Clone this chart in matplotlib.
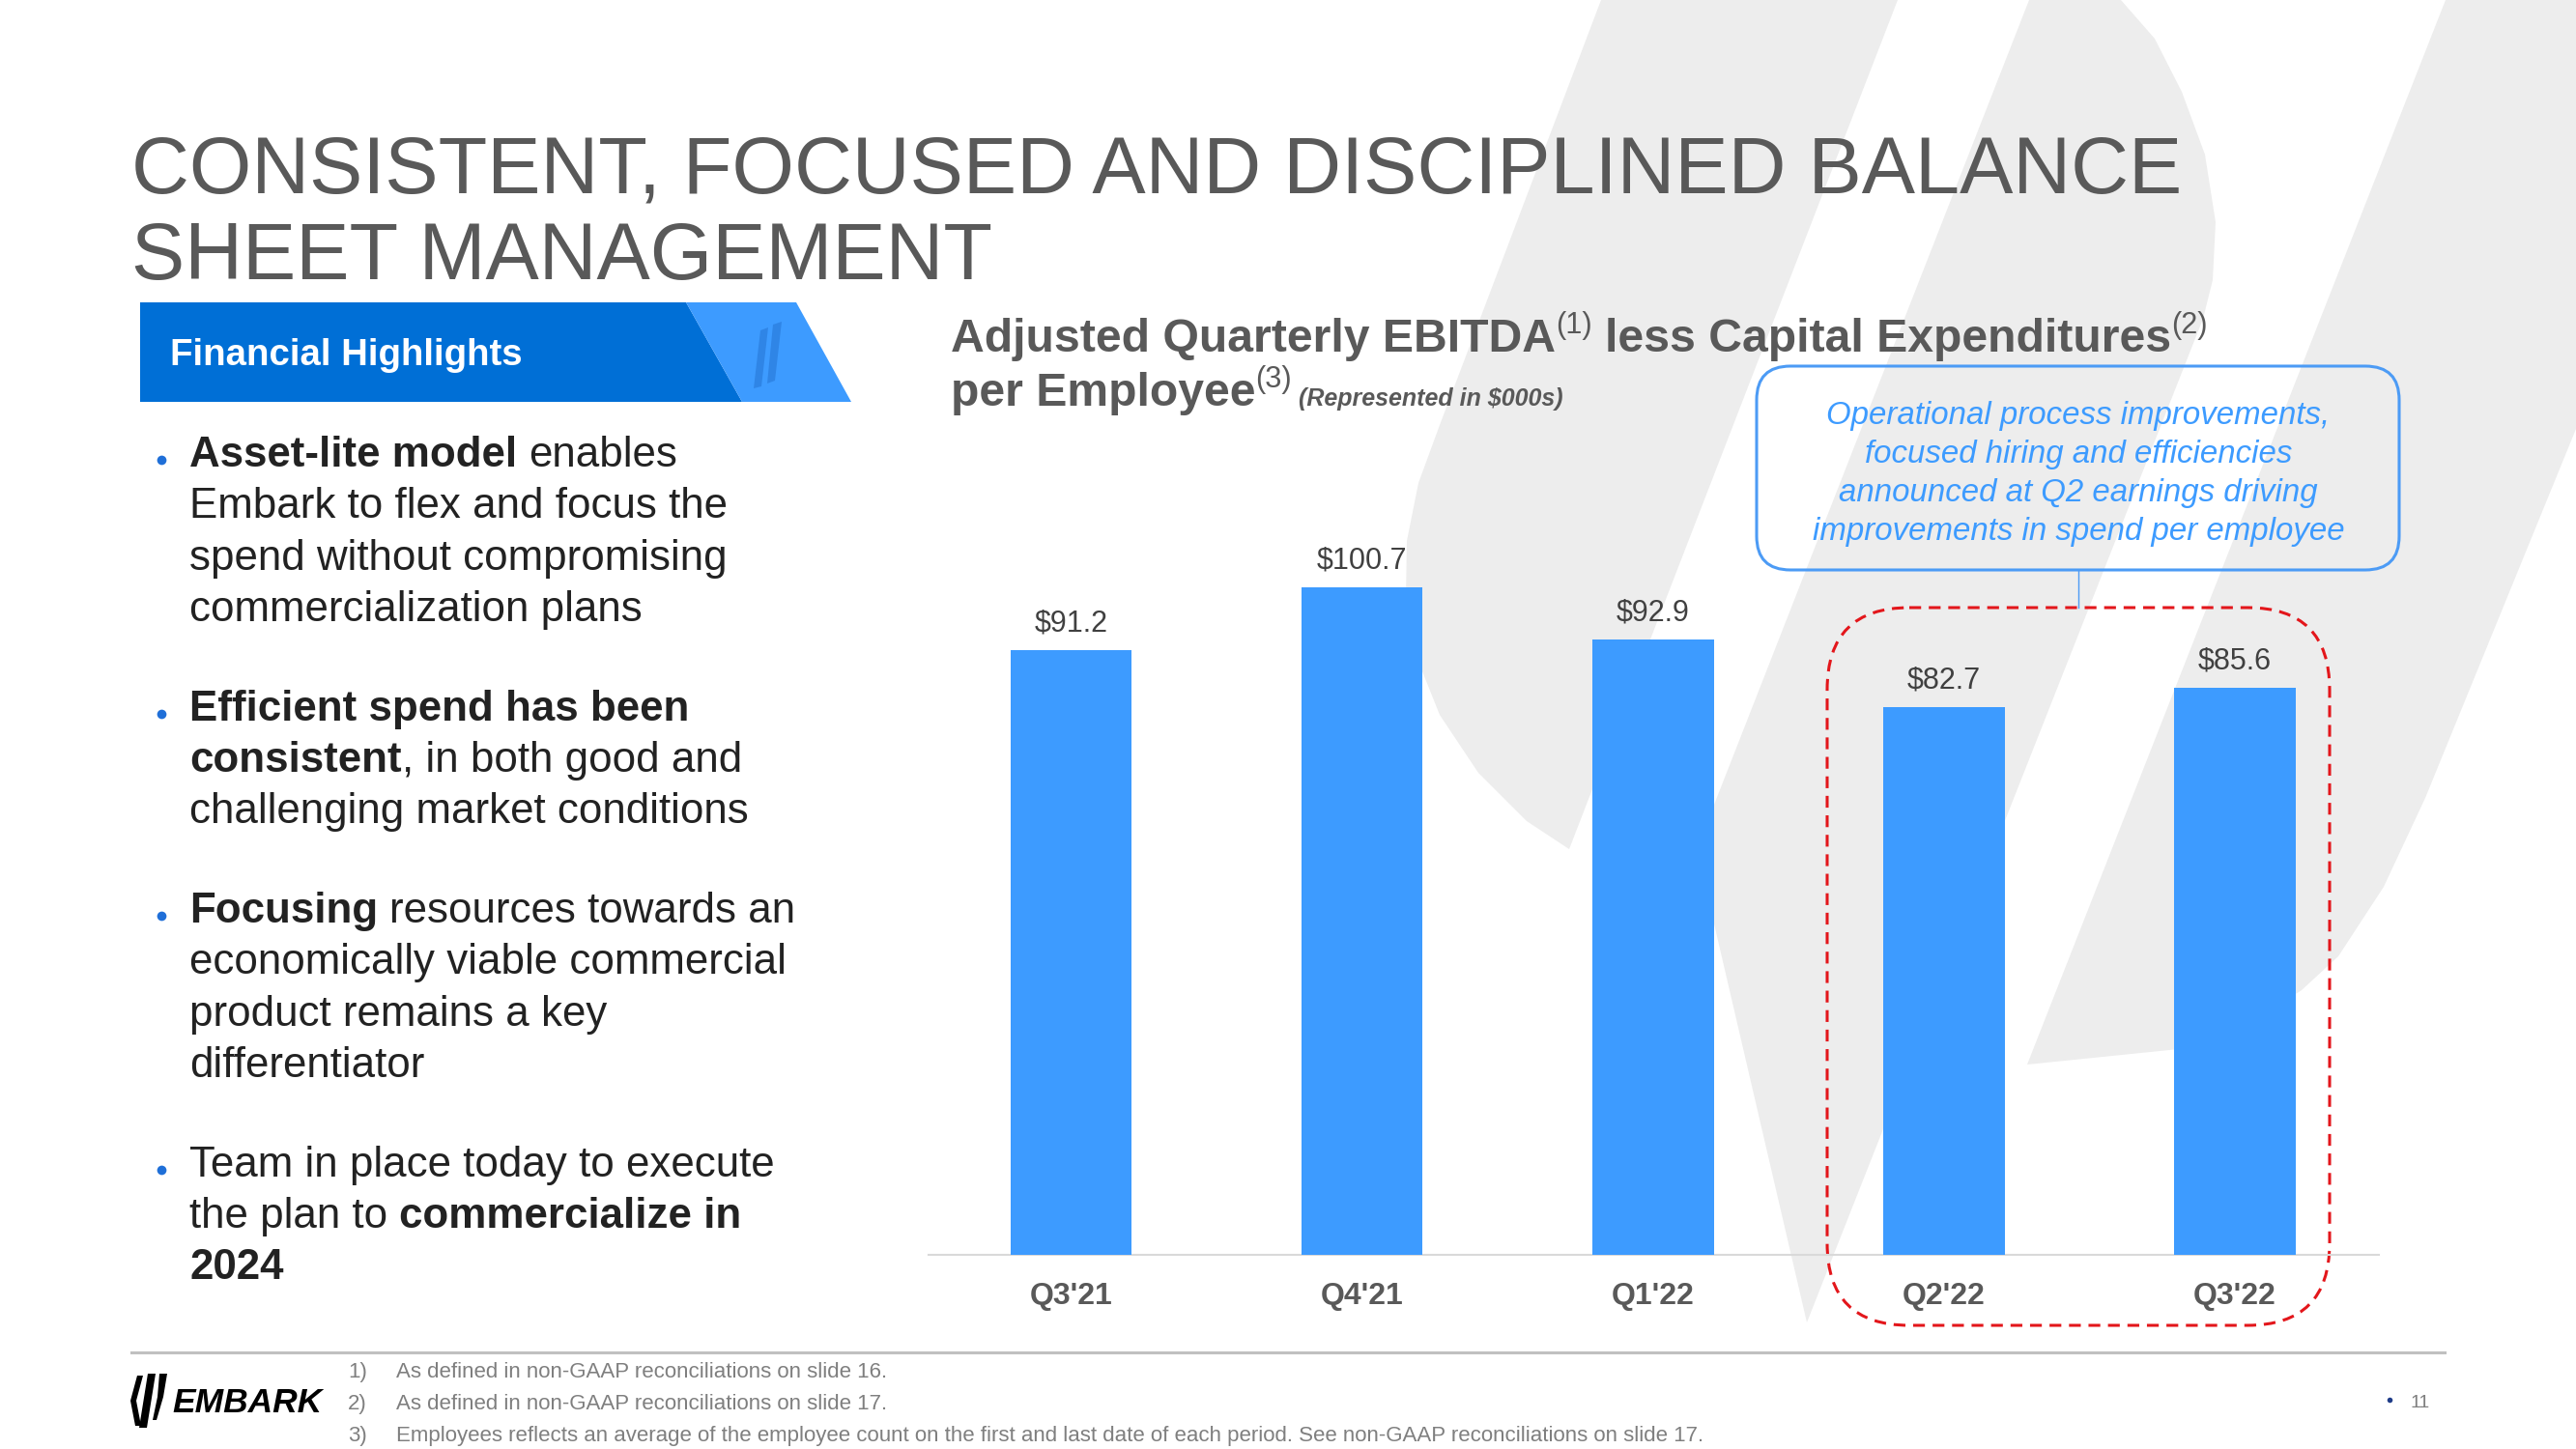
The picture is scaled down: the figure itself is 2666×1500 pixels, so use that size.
import matplotlib
matplotlib.use("Agg")
import matplotlib.pyplot as plt
from matplotlib.patches import Polygon, FancyBboxPatch

plt.rcParams['font.family'] = ['Liberation Sans', 'DejaVu Sans']

# ---- data ----
quarters = ["Q3'21", "Q4'21", "Q1'22", "Q2'22", "Q3'22"]
spend = [91.2, 100.7, 92.9, 82.7, 85.6]   # $000s per employee

title_lines = ["CONSISTENT, FOCUSED AND DISCIPLINED BALANCE", "SHEET MANAGEMENT"]
note_lines = ["Operational process improvements,",
              "focused hiring and efficiencies",
              "announced at Q2 earnings driving",
              "improvements in spend per employee"]
footnotes = ["As defined in non-GAAP reconciliations on slide 16.",
             "As defined in non-GAAP reconciliations on slide 17.",
             "Employees reflects an average of the employee count on the first and last date "
             "of each period. See non-GAAP reconciliations on slide 17."]
# each bullet = list of lines, each line = list of (text, bold)
bullets = [
    [[("Asset-lite model", True), (" enables", False)],
     [("Embark to flex and focus the", False)],
     [("spend without compromising", False)],
     [("commercialization plans", False)]],
    [[("Efficient spend has been", True)],
     [("consistent", True), (", in both good and", False)],
     [("challenging market conditions", False)]],
    [[("Focusing", True), (" resources towards an", False)],
     [("economically viable commercial", False)],
     [("product remains a key", False)],
     [("differentiator", False)]],
    [[("Team in place today to execute", False)],
     [("the plan to", False), (" commercialize in", True)],
     [("2024", True)]],
]

GRAY = '#595959'
BLUE = '#3D9BFF'

fig = plt.figure(figsize=(26.66, 15), dpi=100)
bg = fig.add_axes([0, 0, 1, 1])   # pixel coordinates, y down
bg.set_xlim(0, 2666)
bg.set_ylim(1500, 0)
bg.axis('off')
renderer = fig.canvas.get_renderer()


def text_width(s, size, weight='normal', style='normal'):
    t = bg.text(0, 0, s, fontsize=size, fontweight=weight, fontstyle=style, parse_math=False)
    w = t.get_window_extent(renderer).width
    t.remove()
    return w


def draw_pieces(x, y, pieces, size, color, dry=False):
    # pieces: (text, weight, style, scale, rise)
    cx = x
    for s, weight, style, scale, rise in pieces:
        fs = size * scale
        sp = text_width('x x', fs, weight, style) - text_width('xx', fs, weight, style)
        cx += (len(s) - len(s.lstrip(' '))) * sp
        core = s.strip(' ')
        if core:
            if not dry:
                bg.text(cx, y - rise * size * 100 / 72, core, fontsize=fs, fontweight=weight,
                        fontstyle=style, color=color, va='baseline', ha='left', parse_math=False)
            cx += text_width(core, fs, weight, style)
        cx += (len(s) - len(s.rstrip(' '))) * sp
    return cx - x


def fit(pieces, target):
    return 10 * target / draw_pieces(0, 0, pieces, 10, 'k', dry=True)


# ---- watermark ----
wm = '#EDEDED'
shape_a = [(1657, 0), (1964, 0), (1624, 879), (1580, 850), (1530, 800), (1490, 740),
           (1466, 680), (1455, 620), (1456, 560), (1468, 500), (1490, 440)]
shape_b = [(2100, 0), (2195, 0), (2230, 40), (2258, 95), (2282, 160), (2293, 230),
           (2290, 290), (2280, 330), (1870, 1369), (1756, 879)]
shape_c = [(2531, 0), (2666, 0), (2666, 444), (2510, 826), (2467, 918), (2420, 990),
           (2382, 1025), (2320, 1065), (2255, 1086), (2098, 1102)]
for pts in (shape_a, shape_b, shape_c):
    bg.add_patch(Polygon(pts, closed=True, fc=wm, ec='none', zorder=0))

# ---- title ----
tsize = fit([(title_lines[0], 'normal', 'normal', 1, 0)], 2122)
for s, yb in zip(title_lines, [200, 289]):
    bg.text(136, yb, s, fontsize=tsize, color=GRAY, va='baseline', ha='left')

# ---- header box ----
bg.add_patch(Polygon([(145, 313), (710, 313), (768, 416), (145, 416)], fc='#006FD6', ec='none', zorder=1))
bg.add_patch(Polygon([(710, 313), (824, 313), (881, 416), (768, 416)], fc=BLUE, ec='none', zorder=1))
bg.add_patch(Polygon([(787, 342), (795, 339), (788, 400), (780, 402)], fc='#2F85E6', ec='none', zorder=2))
bg.add_patch(Polygon([(800, 336), (809, 333), (802, 394), (794, 397)], fc='#2F85E6', ec='none', zorder=2))
hsize = fit([("Financial Highlights", 'bold', 'normal', 1, 0)], 365)
bg.text(176, 378, "Financial Highlights", fontsize=hsize, fontweight='bold', color='white',
        va='baseline', ha='left', zorder=3)

# ---- bullets ----
bsize = fit([("commercialization plans", 'normal', 'normal', 1, 0)], 470)
y = 483
for bullet in bullets:
    bg.plot(167, y - 7, 'o', ms=7, color='#1F6FD8', mec='none')
    for line in bullet:
        pcs = [(s, 'bold' if b else 'normal', 'normal', 1, 0) for s, b in line]
        draw_pieces(196, y, pcs, bsize, '#222222')
        y += 53.3
    y += 49.5

# ---- chart title ----
line1 = [("Adjusted Quarterly EBITDA", 'bold', 'normal', 1, 0),
         ("(1)", 'normal', 'normal', 0.64, 0.4),
         (" less Capital Expenditures", 'bold', 'normal', 1, 0),
         ("(2)", 'normal', 'normal', 0.64, 0.4)]
csize = fit(line1, 1303)
draw_pieces(984, 364, line1, csize, GRAY)
line2 = [("per Employee", 'bold', 'normal', 1, 0),
         ("(3)", 'normal', 'normal', 0.64, 0.4),
         (" (Represented in $000s)", 'bold', 'italic', 0.52, 0)]
draw_pieces(984, 420, line2, csize, GRAY)

# ---- note box ----
nsize = fit([(note_lines[3], 'normal', 'italic', 1, 0)], 551)
bg.add_patch(FancyBboxPatch((1818, 379), 665, 211, boxstyle='round,pad=0,rounding_size=35',
                            fc='none', ec='#4C9BF5', lw=2.2, zorder=2))
for i, s in enumerate(note_lines):
    bg.text(2151, 439 + 40 * i, s, fontsize=nsize, fontstyle='italic', color=BLUE,
            ha='center', va='baseline', zorder=3)
bg.plot([2151, 2151], [590, 629], color='#4C9BF5', lw=1, zorder=2)

# red dashed highlight
bg.add_patch(FancyBboxPatch((1891, 629), 520, 743, boxstyle='round,pad=0,rounding_size=85',
                            fc='none', ec='#E3161B', lw=2.2, ls=(0, (4, 2.6)), zorder=2))

# ---- bar chart ----
ax = fig.add_axes([960.7 / 2666, 1 - 1299 / 1500, (2462 - 960.7) / 2666, (1299 - 544.3) / 1500])
ax.patch.set_alpha(0)
xpos = range(len(quarters))
bars = ax.bar(xpos, spend, width=0.418, color=BLUE, zorder=3)
ax.bar_label(bars, labels=[f"${v}" for v in spend], padding=9, fontsize=22, color='#404040')
ax.set_xlim(-0.491, 4.496)
ax.set_ylim(0, 110)
ax.set_xticks(list(xpos))
ax.set_xticklabels(quarters, fontsize=23, fontweight='bold', color=GRAY)
ax.tick_params(axis='x', length=0, pad=20)
ax.set_yticks([])
for side in ['top', 'right', 'left']:
    ax.spines[side].set_visible(False)
ax.spines['bottom'].set_color('#D9D9D9')
ax.spines['bottom'].set_linewidth(1.5)

# ---- footer ----
bg.plot([136, 2530], [1400, 1400], color='#C0C0C0', lw=2.2)
fsize = fit([(footnotes[2], 'normal', 'normal', 1, 0)], 1360)
for i, s in enumerate(footnotes):
    yb = 1426 + 33 * i
    bg.text(360, yb, f"{i + 1})", fontsize=fsize, color='#7F7F7F', va='baseline', ha='left')
    bg.text(410, yb, s, fontsize=fsize, color='#7F7F7F', va='baseline', ha='left', parse_math=False)

# logo
bg.add_patch(Polygon([(142, 1424), (148, 1424), (141, 1450), (146, 1476), (140, 1476), (135, 1450)],
                     fc='black', ec='none'))
bg.add_patch(Polygon([(153, 1422), (161, 1422), (152, 1478), (144, 1478)], fc='black', ec='none'))
bg.add_patch(Polygon([(165, 1422), (173, 1422), (169, 1446), (162, 1470), (158, 1470), (163, 1446)],
                     fc='black', ec='none'))
lsize = fit([("EMBARK", 'bold', 'italic', 1, 0)], 155)
bg.text(178, 1462, "EMBARK", fontsize=lsize, fontweight='bold', fontstyle='italic', color='black',
        va='baseline', ha='left')

# page number
bg.plot(2473, 1449, 'o', ms=4, color='#1F3C88', mec='none')
bg.text(2495, 1457, "11", fontsize=14, color='#7F7F7F', va='baseline', ha='left')

fig.savefig("out.png", dpi=100)
